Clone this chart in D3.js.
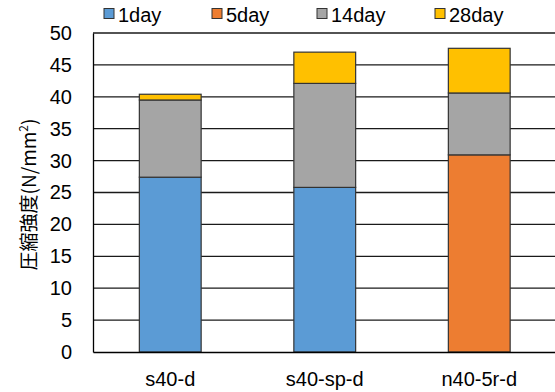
<!DOCTYPE html>
<html>
<head>
<meta charset="utf-8">
<script src="https://cdn.jsdelivr.net/npm/d3@7"></script>
<style>
  html, body { margin: 0; padding: 0; background: #fff; }
  svg { display: block; font-family: "Liberation Sans", Arial, sans-serif; }
</style>
</head>
<body>
<svg id="chart" width="555" height="392"></svg>
<script>
// Specimens and curing ages
const categories = ["s40-d", "s40-sp-d", "n40-5r-d"];
const seriesNames = ["1day", "5day", "14day", "28day"];
const seriesColors = ["#5B9BD5", "#ED7D31", "#A5A5A5", "#FFC000"];
// Strength gained in each period (N/mm²), stacked per specimen
const day1 = [27.4, 25.8, 0];
const day5 = [0, 0, 30.9];
const day14 = [12.1, 16.3, 9.7];
const day28 = [0.9, 4.9, 7.0];
const yTicks = [0, 5, 10, 15, 20, 25, 30, 35, 40, 45, 50];

const rows = categories.map((c, i) => ({
  cat: c, "1day": day1[i], "5day": day5[i], "14day": day14[i], "28day": day28[i]
}));

const svg = d3.select("#chart");
const m = { left: 93, top: 33, bottom: 352, right: 556.5 };
const FONT = "Liberation Sans, Arial, sans-serif";

const x = d3.scaleBand().domain(categories).range([m.left, m.right])
  .paddingInner(0.6).paddingOuter(0.3);
const y = d3.scaleLinear().domain([0, 50]).range([m.bottom, m.top]);

// horizontal gridlines
svg.append("g").selectAll("line").data(yTicks.filter(t => t > 0)).join("line")
  .attr("x1", m.left).attr("x2", 555)
  .attr("y1", d => y(d)).attr("y2", d => y(d))
  .attr("stroke", "#1a1a1a").attr("stroke-width", 1.3);

// stacked bars
const stack = d3.stack().keys(seriesNames)(rows);
svg.append("g").selectAll("g").data(stack).join("g")
  .attr("fill", (d, i) => seriesColors[i])
  .selectAll("rect").data(d => d.filter(p => p[1] - p[0] > 0)).join("rect")
  .attr("x", d => x(d.data.cat))
  .attr("width", x.bandwidth())
  .attr("y", d => y(d[1]))
  .attr("height", d => y(d[0]) - y(d[1]))
  .attr("stroke", "#333").attr("stroke-width", 1.2);

// axes
const yAxis = d3.axisLeft(y).tickValues(yTicks).tickSize(0).tickPadding(21);
const gy = svg.append("g").attr("transform", `translate(${m.left},0)`).call(yAxis);
gy.select(".domain").attr("stroke", "#000").attr("stroke-width", 1.3);
gy.selectAll("text").attr("font-size", 20).attr("fill", "#000").attr("font-family", FONT);

const xAxis = d3.axisBottom(x).tickSize(0).tickPadding(20);
const gx = svg.append("g").attr("transform", `translate(0,${m.bottom})`).call(xAxis);
gx.select(".domain").attr("stroke", "#000").attr("stroke-width", 1.3);
gx.selectAll("text").attr("font-size", 20).attr("fill", "#000").attr("font-family", FONT);

// y-axis title
svg.append("text")
  .attr("transform", `translate(36,${(m.top + m.bottom) / 2 + 2}) rotate(-90)`)
  .attr("text-anchor", "middle")
  .attr("font-size", 19)
  .attr("font-family", "Noto Sans CJK JP, sans-serif")
  .attr("fill", "#000")
  .html('圧縮強度(N/mm<tspan baseline-shift="super" font-size="12">2</tspan>)');

// legend
const legendX = [104, 212, 317, 435];
const lg = svg.append("g").selectAll("g").data(seriesNames).join("g")
  .attr("transform", (d, i) => `translate(${legendX[i]},8.5)`);
lg.append("rect").attr("width", 10).attr("height", 10)
  .attr("fill", (d, i) => seriesColors[i]).attr("stroke", "#333").attr("stroke-width", 1);
lg.append("text").attr("x", 14).attr("y", 13).attr("font-size", 20)
  .attr("fill", "#000").attr("font-family", FONT).text(d => d);
</script>
</body>
</html>
